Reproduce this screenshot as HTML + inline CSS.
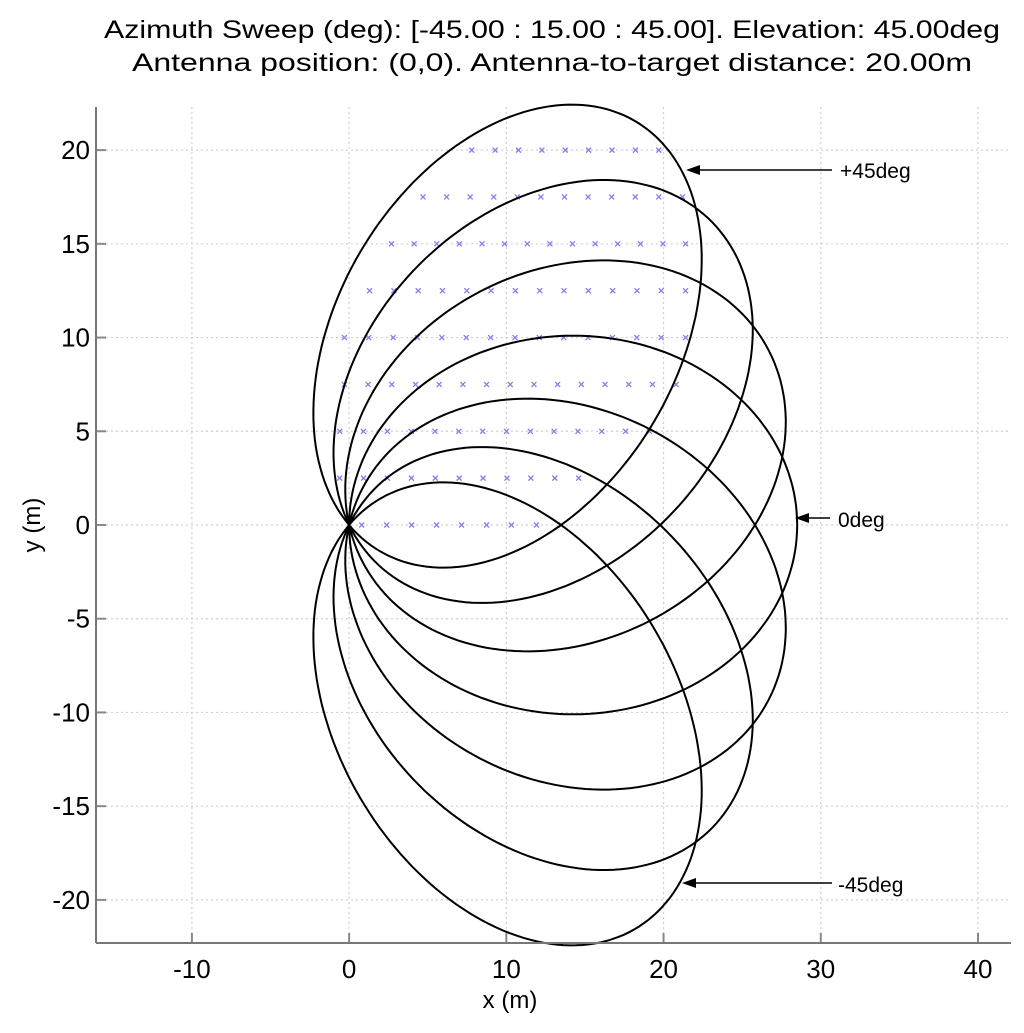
<!DOCTYPE html>
<html><head><meta charset="utf-8"><style>
body{margin:0;background:#fff;}
svg{display:block;font-family:"Liberation Sans",Arial,sans-serif;}
</style></head><body>
<svg id="chart" width="1024" height="1033" viewBox="0 0 1024 1033" xmlns="http://www.w3.org/2000/svg">
<text x="552" y="38" font-size="25" text-anchor="middle" textLength="896" lengthAdjust="spacingAndGlyphs">Azimuth Sweep (deg): [-45.00 : 15.00 : 45.00]. Elevation: 45.00deg</text>
<text x="552" y="71" font-size="25" text-anchor="middle" textLength="840" lengthAdjust="spacingAndGlyphs">Antenna position: (0,0). Antenna-to-target distance: 20.00m</text>
<g id="grid"></g>
<g id="markers"></g>
<g id="ellipses"></g>
<g id="axes"></g>
<text x="510" y="1008" font-size="24" text-anchor="middle">x (m)</text>
<text x="0" y="0" font-size="24" text-anchor="middle" transform="translate(40,525) rotate(-90)">y (m)</text>
<g>
<line x1="832" y1="170" x2="690" y2="170" stroke="#000" stroke-width="1.5"/><path d="M686,170 L700,165 L700,175 Z" fill="#000"/>
<text x="840" y="178" font-size="21">+45deg</text></g>
<g>
<line x1="830" y1="518" x2="800" y2="518" stroke="#000" stroke-width="1.5"/><path d="M795,518 L809,513 L809,523 Z" fill="#000"/>
<text x="838" y="527" font-size="21">0deg</text></g>
<g>
<line x1="832" y1="883" x2="686" y2="883" stroke="#000" stroke-width="1.5"/><path d="M682,883 L696,878 L696,888 Z" fill="#000"/>
<text x="838" y="892" font-size="21">-45deg</text></g>
</svg>
<script>
const xTicks=[-10,0,10,20,30,40];
const yTicks=[-20,-15,-10,-5,0,5,10,15,20];
const azimuths=[-45,-30,-15,0,15,30,45];
const semiMajor=[14.25,14.25,14.25,14.25,14.25,14.25,14.25];
const semiMinor=[10.1,10.1,10.1,10.1,10.1,10.1,10.1];
const rowY=[0,2.5,5,7.5,10,12.5,15,17.5,20];
const rowXStart=[0.8,-0.6,-0.6,-0.3,-0.3,1.3,2.7,4.7,7.8];
const rowXEnd=[13.5,14.6,19.1,20.8,21.4,21.4,21.4,21.2,19.7];
const rowCount=[9,11,14,15,15,14,14,12,9];
const X0=-16.1,X1=42.1,Y0=-22.3,Y1=22.3;
const L=96,R=1011,T=107,B=943;
const sx=v=>L+(v-X0)/(X1-X0)*(R-L);
const sy=v=>B-(v-Y0)/(Y1-Y0)*(B-T);
const NS='http://www.w3.org/2000/svg';
function mk(tag,attrs,parent){const e=document.createElementNS(NS,tag);for(const k in attrs)e.setAttribute(k,attrs[k]);parent.appendChild(e);return e;}
const grid=document.getElementById('grid'),axes=document.getElementById('axes');
xTicks.forEach(t=>{
 const g=mk('line',{x1:sx(t),x2:sx(t),y1:T,y2:B,stroke:'#d0d0d0','stroke-width':1.2,'stroke-dasharray':'2,3'},grid);
 
 
 mk('line',{x1:sx(t),x2:sx(t),y1:B,y2:B-10,stroke:'#888','stroke-width':2},axes);
 const tx=mk('text',{x:sx(t),y:B+35,'font-size':26,'text-anchor':'middle'},axes);
 tx.textContent=t;
 
 
});
yTicks.forEach(t=>{
 const g=mk('line',{x1:L,x2:R,y1:sy(t),y2:sy(t),stroke:'#d0d0d0','stroke-width':1.2,'stroke-dasharray':'2,3'},grid);
 
 
 mk('line',{x1:L,x2:L+10,y1:sy(t),y2:sy(t),stroke:'#888','stroke-width':2},axes);
 const tx=mk('text',{x:L-6,y:sy(t)+9,'font-size':26,'text-anchor':'end'},axes);
 tx.textContent=t;
 
 
});
mk('line',{x1:L,x2:R,y1:B,y2:B,stroke:'#777','stroke-width':2},axes);
mk('line',{x1:L,x2:L,y1:T,y2:B,stroke:'#777','stroke-width':2},axes);
const mg=document.getElementById('markers');
rowY.forEach((y,i)=>{
 const n=rowCount[i];
 for(let k=0;k<n;k++){
  const x=rowXStart[i]+(rowXEnd[i]-rowXStart[i])*k/(n-1);
  const px=sx(x),py=sy(y);
  const m=mk('path',{d:`M${px-2.5},${py-2.5}L${px+2.5},${py+2.5}M${px+2.5},${py-2.5}L${px-2.5},${py+2.5}`,stroke:'#8080f0','stroke-width':1.3},mg);
  
  
 }
});
const eg=document.getElementById('ellipses');
azimuths.forEach((az,i)=>{
 const a=semiMajor[i],b=semiMinor[i],th=az*Math.PI/180;
 const cx=a*Math.cos(th),cy=a*Math.sin(th);
 let d='';
 for(let k=0;k<=180;k++){
  const t=k/180*2*Math.PI;
  const u=a*Math.cos(t),v=b*Math.sin(t);
  const x=cx+u*Math.cos(th)-v*Math.sin(th),y=cy+u*Math.sin(th)+v*Math.cos(th);
  d+=(k?'L':'M')+sx(x).toFixed(1)+','+sy(y).toFixed(1);
 }
 const p=mk('path',{d:d+'Z',fill:'none',stroke:'#000','stroke-width':2},eg);
 
 
});
</script>
</body></html>
